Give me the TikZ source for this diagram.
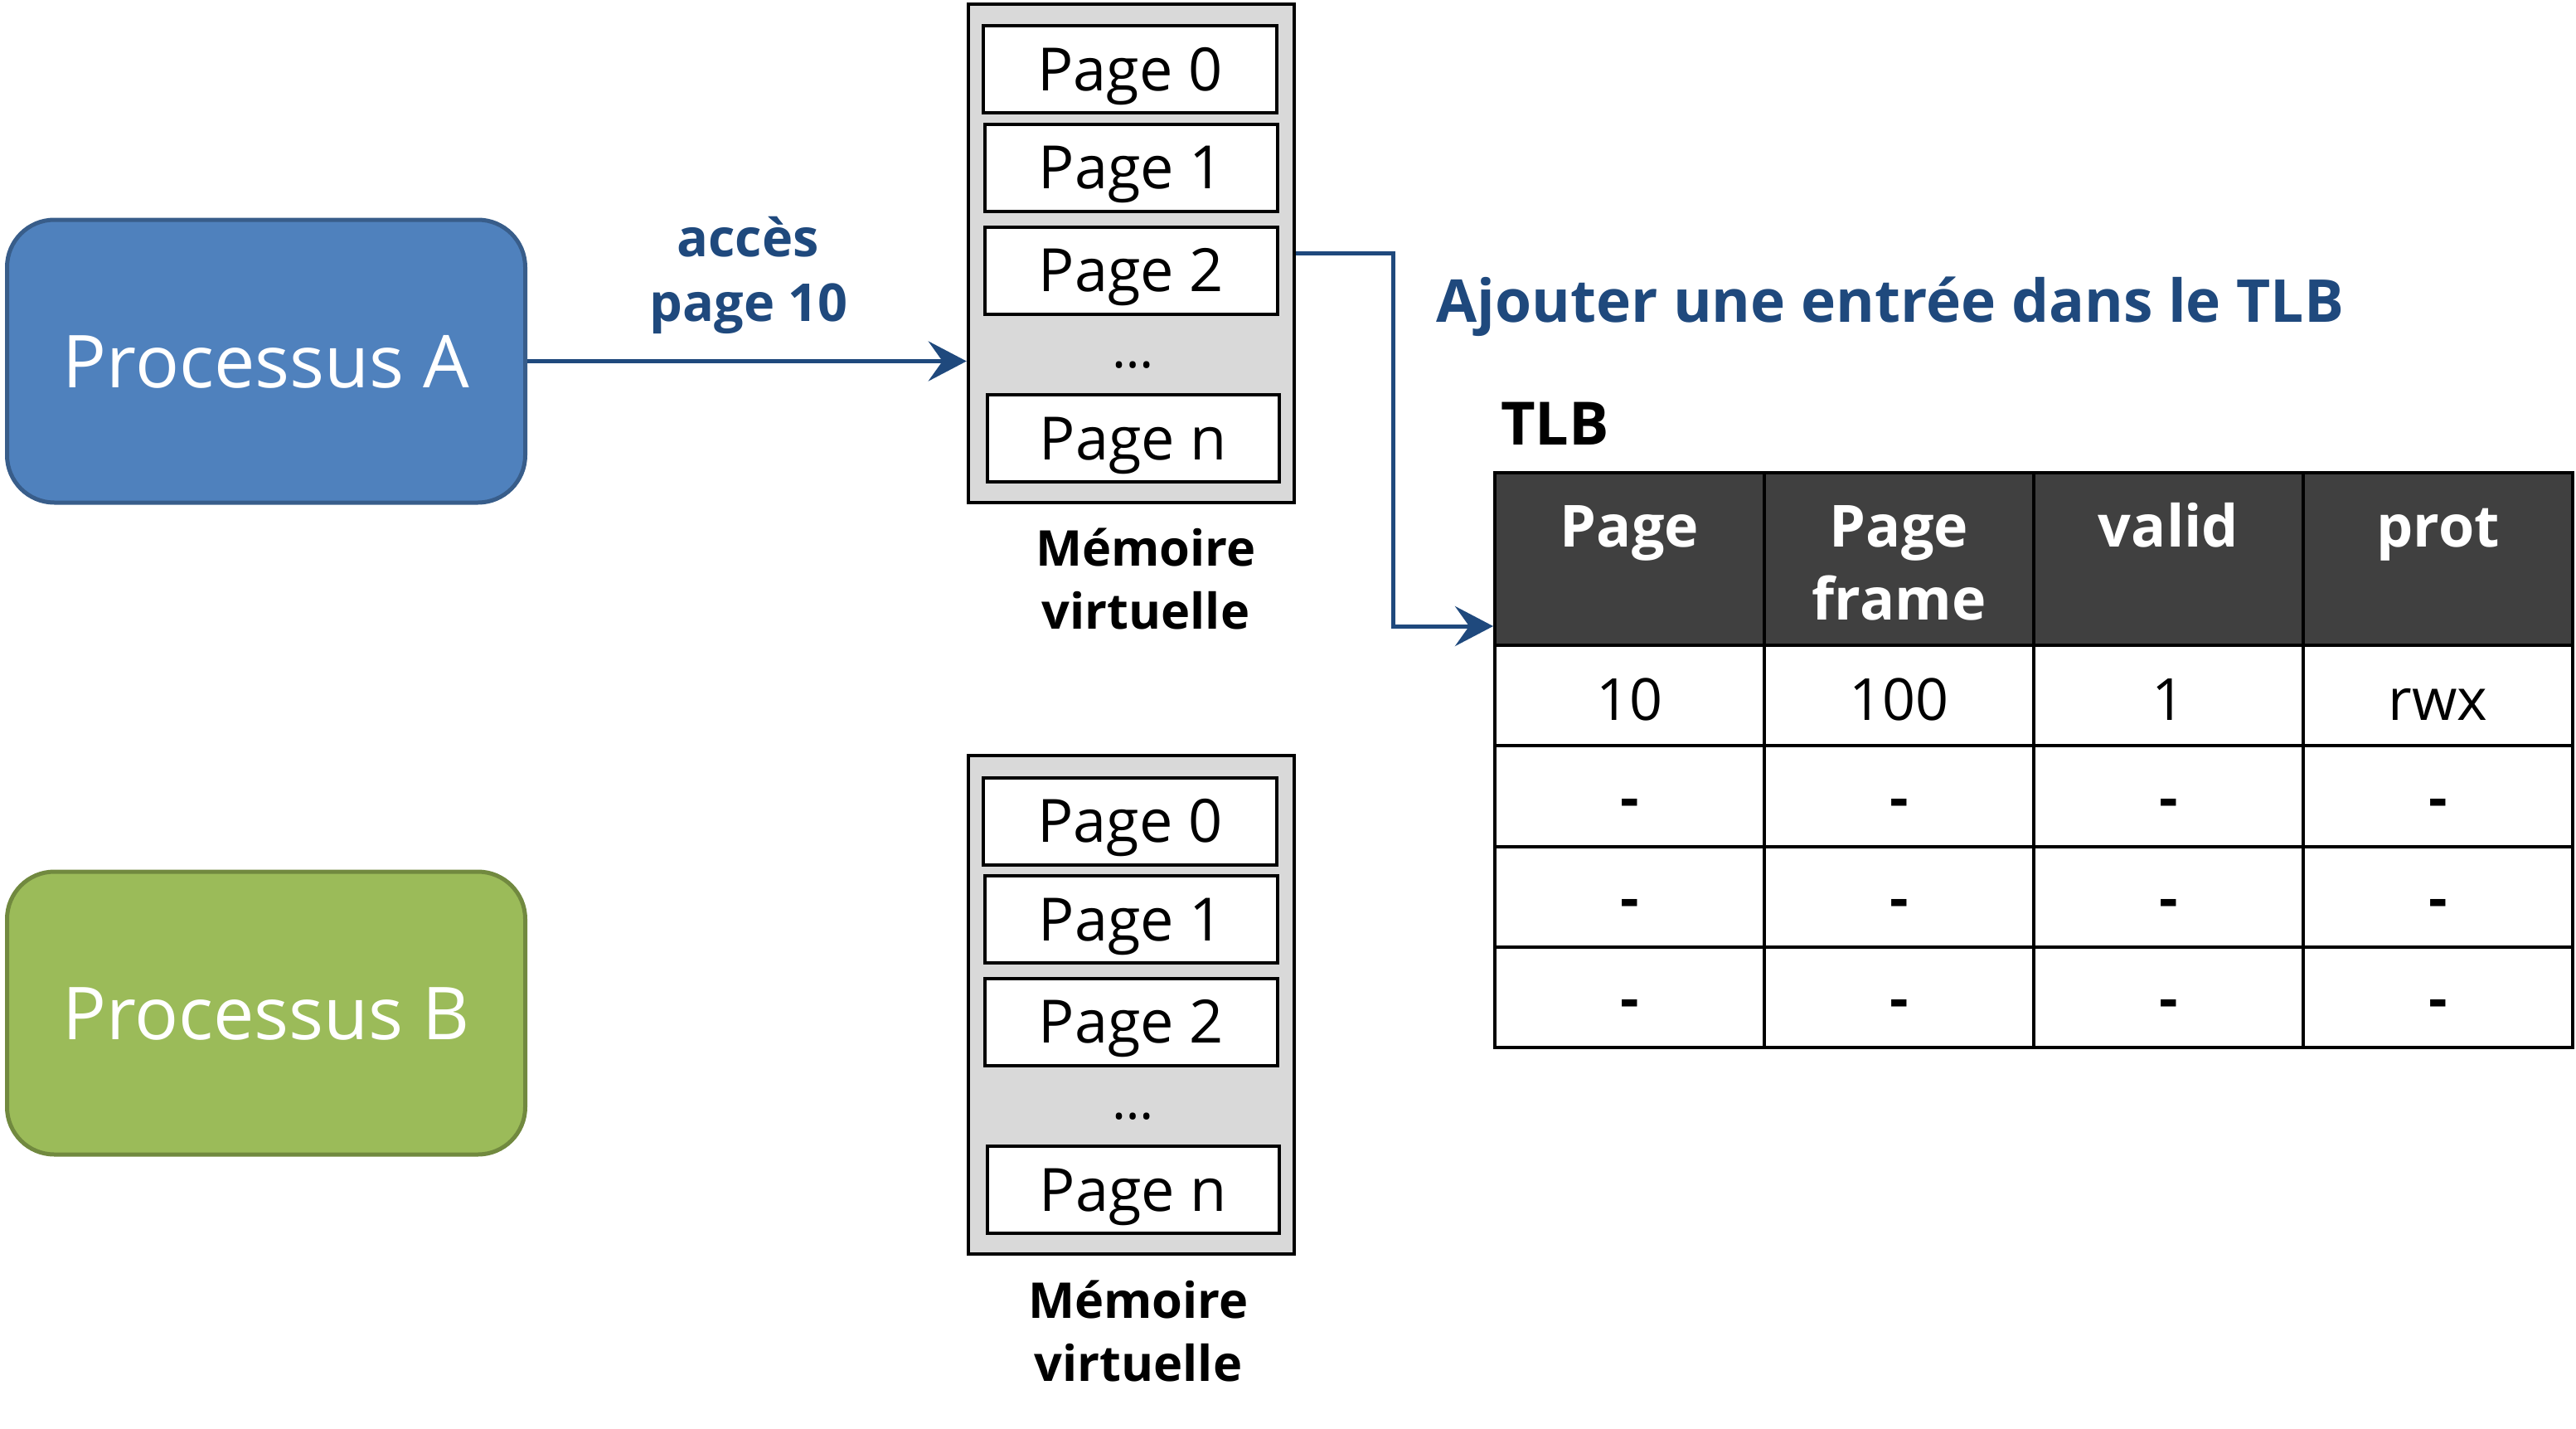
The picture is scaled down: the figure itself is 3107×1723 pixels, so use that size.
\documentclass[tikz,border=0pt]{standalone}
\usepackage{fontspec}
\setmainfont{Open Sans}
\usetikzlibrary{arrows.meta}
\definecolor{blueA}{RGB}{79,129,189}
\definecolor{blueAline}{RGB}{56,93,138}
\definecolor{greenB}{RGB}{155,187,89}
\definecolor{greenBline}{RGB}{113,137,63}
\definecolor{navy}{RGB}{31,73,125}
\definecolor{memgray}{RGB}{217,217,217}
\definecolor{hdr}{RGB}{64,64,64}
\begin{document}
\begin{tikzpicture}[x=1pt,y=-1pt,
  proc/.style={rounded corners=57pt, line width=5pt, minimum width=625pt, minimum height=341pt, inner sep=0pt, text=white, font=\fontsize{88}{96}\selectfont, text height=64pt, text depth=0pt},
  memouter/.style={draw=black, fill=memgray, line width=4.5pt, minimum width=393pt, minimum height=601pt, inner sep=0pt},
  pagebox/.style={draw=black, fill=white, line width=4pt, minimum height=105pt, inner sep=0pt, font=\fontsize{72}{80}\selectfont, text height=51pt, text depth=0pt},
  dotstxt/.style={font=\fontsize{64}{70}\selectfont, anchor=base, inner sep=0pt},
  memlabel/.style={font=\bfseries\fontsize{59.5}{64}\selectfont, anchor=base, inner sep=0pt},
  bluelabel/.style={text=navy, font=\bfseries\fontsize{63}{68}\selectfont, anchor=base, inner sep=0pt},
  hdrcell/.style={draw=black, fill=hdr, line width=4pt, minimum width=325pt, minimum height=208pt, inner sep=0pt},
  bodycell/.style={draw=black, fill=white, line width=4pt, minimum width=325pt, minimum height=121.25pt, inner sep=0pt},
  hdrtxt/.style={text=white, font=\bfseries\fontsize{70}{76}\selectfont, anchor=base, inner sep=0pt},
  bodytxt/.style={font=\fontsize{70}{76}\selectfont, anchor=base, inner sep=0pt},
  conn/.style={draw=navy, line width=5pt, -{Stealth[length=46pt,width=48pt,inset=17pt]}},
]
\useasboundingbox (0,0) rectangle (3107,1723);

% processes
\node[proc, fill=blueA, draw=blueAline] (pa) at (321,435.5) {Processus A};
\node[proc, fill=greenB, draw=greenBline] (pb) at (321,1221.5) {Processus B};

% virtual memory 1
\node[memouter] (mem1) at (1364.5,305.5) {};
\node[pagebox, minimum width=354pt] (m1p0) at (1363,84) {Page 0};
\node[pagebox, minimum width=353pt] (m1p1) at (1364.5,202.5) {Page 1};
\node[pagebox, minimum width=353pt] (m1p2) at (1364.5,326) {Page 2};
\node[dotstxt] (m1dots) at (1367,443) {…};
\node[pagebox, minimum width=352pt] (m1pn) at (1367,528.5) {Page n};
\node[memlabel] (ml1a) at (1382,682) {Mémoire};
\node[memlabel] (ml1b) at (1382,758) {virtuelle};

% virtual memory 2
\node[memouter] (mem2) at (1364.5,1211.5) {};
\node[pagebox, minimum width=354pt] (m2p0) at (1363,990) {Page 0};
\node[pagebox, minimum width=353pt] (m2p1) at (1364.5,1108.5) {Page 1};
\node[pagebox, minimum width=353pt] (m2p2) at (1364.5,1232) {Page 2};
\node[dotstxt] (m2dots) at (1367,1349) {…};
\node[pagebox, minimum width=352pt] (m2pn) at (1367,1434.5) {Page n};
\node[memlabel] (ml2a) at (1373,1589) {Mémoire};
\node[memlabel] (ml2b) at (1373,1665) {virtuelle};

% TLB table
\foreach \i/\x in {1/1965.5,2/2290.5,3/2615.5,4/2940.5} {
  \node[hdrcell] (h\i) at (\x,674) {};
  \foreach \j/\y in {1/838.625,2/959.875,3/1081.125,4/1202.375}
    \node[bodycell] (c\j\i) at (\x,\y) {};
}
\node[hdrtxt] (t1) at (1965.5,659) {Page};
\node[hdrtxt] (t2a) at (2290.5,659) {Page};
\node[hdrtxt] (t2b) at (2290.5,747) {frame};
\node[hdrtxt] (t3) at (2615.5,659) {valid};
\node[hdrtxt] (t4) at (2940.5,659) {prot};

\node[bodytxt] (v11) at (1965.5,868) {10};
\node[bodytxt] (v12) at (2290.5,868) {100};
\node[bodytxt] (v13) at (2615.5,868) {1};
\node[bodytxt] (v14) at (2940.5,868) {rwx};
\foreach \j/\b in {2/986,3/1107,4/1228}
  \foreach \i/\x in {1/1965.5,2/2290.5,3/2615.5,4/2940.5}
    \node[bodytxt, font=\bfseries\fontsize{70}{76}\selectfont] (d\j\i) at (\x,\b) {-};

\node[font=\bfseries\fontsize{72}{78}\selectfont, anchor=base west, inner sep=0pt] (tlbl) at (1810,536) {TLB};
\node[bluelabel, font=\bfseries\fontsize{71.3}{78}\selectfont, anchor=base west] (ajout) at (1732,388) {Ajouter une entrée dans le TLB};

% access label
\node[bluelabel] (acc1) at (902,309) {accès};
\node[bluelabel] (acc2) at (903,387) {page 10};

% connectors
\coordinate (bend) at (1680,755);
\draw[conn] (pa.east) -- (pa.east -| mem1.west);
\draw[conn] (mem1.east) -| (bend) -- (bend -| h1.west);
\end{tikzpicture}
\end{document}
